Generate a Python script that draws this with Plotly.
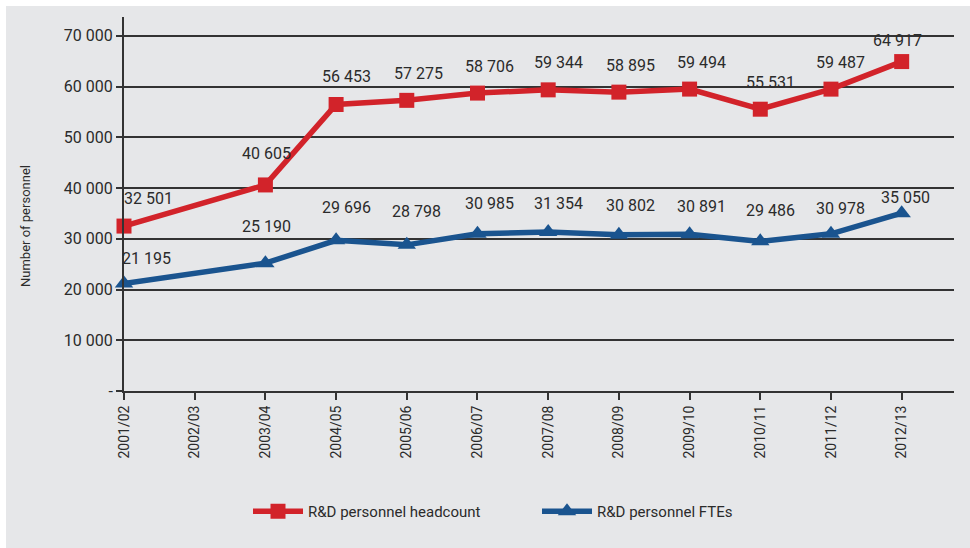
import plotly.graph_objects as go

categories = ["2001/02", "2002/03", "2003/04", "2004/05", "2005/06", "2006/07",
              "2007/08", "2008/09", "2009/10", "2010/11", "2011/12", "2012/13"]
headcount = [32501, None, 40605, 56453, 57275, 58706, 59344, 58895, 59494, 55531, 59487, 64917]
ftes = [21195, None, 25190, 29696, 28798, 30985, 31354, 30802, 30891, 29486, 30978, 35050]
ytick_vals = [0, 10000, 20000, 30000, 40000, 50000, 60000, 70000]
ytick_text = ["-", "10 000", "20 000", "30 000", "40 000", "50 000", "60 000", "70 000"]
y_title = "Number of personnel"

RED = "#d2232a"
BLUE = "#1a548f"
TXT = "#2b2b2b"
AX = "#333333"
BG = "#e6e7e9"
FONT = "Roboto, sans-serif"

def fmt(v):
    return f"{v:,}".replace(",", " ")

xi = list(range(len(categories)))
X_END = 11.74

fig = go.Figure()
fig.add_trace(go.Scatter(
    x=xi, y=headcount, name="R&D personnel headcount", mode="lines+markers",
    connectgaps=True, cliponaxis=False,
    line=dict(color=RED, width=5.5),
    marker=dict(symbol="square", size=15, color=RED)))
fig.add_trace(go.Scatter(
    x=xi, y=ftes, name="R&D personnel FTEs", mode="lines+markers",
    connectgaps=True, cliponaxis=False,
    line=dict(color=BLUE, width=5.5),
    marker=dict(symbol="triangle-up", size=16, color=BLUE)))

# label offsets (pixels)
hc_dx = [24, 0, 1, 10, 12, 12, 10, 12, 12, 10, 10, -4]
hc_dy = [28, 0, 31, 28, 27, 27, 27, 27, 27, 27, 27, 21]
ft_dx = [22, 0, 1, 10, 10, 12, 10, 12, 12, 10, 10, 4]
ft_dy = [25, 0, 37, 33, 33, 30, 28, 29, 28, 31, 25, 16]

for series, dxs, dys in ((headcount, hc_dx, hc_dy), (ftes, ft_dx, ft_dy)):
    for i, v in enumerate(series):
        if v is None:
            continue
        fig.add_annotation(x=i, y=v, text=fmt(v), showarrow=False,
                           xshift=dxs[i], yshift=dys[i],
                           font=dict(family=FONT, size=16, color=TXT))

# y-axis title
fig.add_annotation(xref="paper", yref="paper", x=(25 - 124) / 830, y=(391 - 226) / 374,
                   text=y_title, textangle=-90, showarrow=False,
                   xanchor="center", yanchor="middle",
                   font=dict(family=FONT, size=13, color=TXT))

fig.add_shape(type="rect", xref="paper", yref="paper",
              x0=(6 - 124) / 830, x1=(975 - 124) / 830,
              y0=(391 - 560) / 374, y1=(391 - 6) / 374,
              fillcolor=BG, line=dict(width=0), layer="below")
# closing tick at the right end of the category axis
fig.add_shape(type="line", xref="x", yref="y", ysizemode="pixel", yanchor=0,
              x0=X_END, x1=X_END, y0=0, y1=-7,
              line=dict(color=AX, width=2))

fig.update_layout(
    width=970, height=548,
    margin=dict(l=124, r=16, t=17, b=157),
    paper_bgcolor="white", plot_bgcolor=BG,
    font=dict(family=FONT, size=14, color=TXT),
    showlegend=True,
    legend=dict(orientation="h", x=(248 - 124) / 830, y=(391 - 495) / 374,
                xanchor="left", yanchor="top", itemwidth=50,
                entrywidth=224, entrywidthmode="pixels",
                bgcolor="rgba(0,0,0,0)", font=dict(family=FONT, size=15, color=TXT)),
    xaxis=dict(range=[0, X_END], tickvals=xi, ticktext=categories, tickangle=-90,
               showgrid=False, zeroline=False, showline=True, linecolor=AX, linewidth=2,
               ticks="outside", ticklen=7, tickwidth=2, tickcolor=AX,
               tickfont=dict(family=FONT, size=14, color=TXT)),
    yaxis=dict(range=[0, 73700], tickvals=ytick_vals, ticktext=ytick_text,
               showgrid=True, gridcolor=AX, gridwidth=2, zeroline=False,
               showline=True, linecolor=AX, linewidth=2,
               ticks="outside", ticklen=6, tickwidth=2, tickcolor=AX,
               tickfont=dict(family=FONT, size=16, color=TXT)),
)

fig.write_html("out.html", config={"displayModeBar": False},
               post_script="document.body.style.margin='0';")
